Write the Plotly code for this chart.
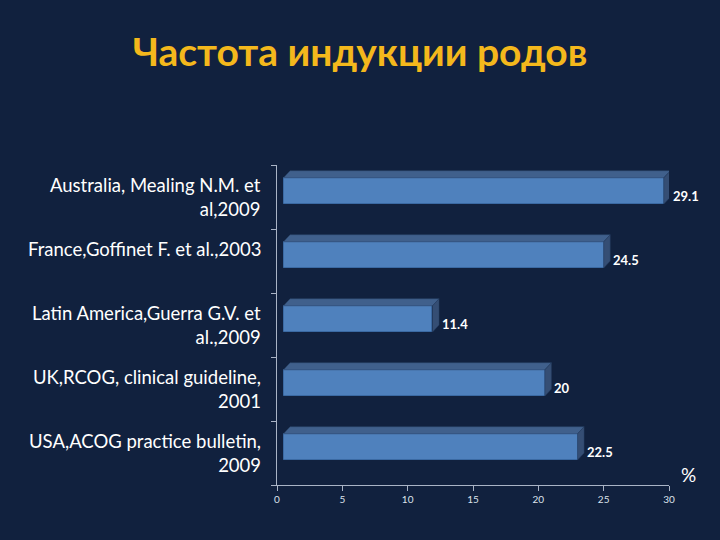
import plotly.graph_objects as go

studies = ["Australia, Mealing N.M. et<br>al,2009",
           "France,Goffinet F. et al.,2003<br> ",
           "Latin America,Guerra G.V. et<br>al.,2009",
           "UK,RCOG, clinical guideline,<br>2001",
           "USA,ACOG practice bulletin,<br>2009"]
rates = [29.1, 24.5, 11.4, 20, 22.5]
rate_labels = ["29.1", "24.5", "11.4", "20", "22.5"]
x_ticks = [0, 5, 10, 15, 20, 25, 30]

bg = "#11213e"
axis_col = "#aab4c6"
front = "#4f81bd"
top_col = "#40608c"
side_col = "#354e74"

# 3d look: front face shifted right, top/side faces going up-right
off = 0.5      # gap between axis and front face (x units)
dx = 0.5       # depth in x
h = 0.41       # front face height (y units)
dy = 0.11      # depth in y
lo = -0.11     # front face bottom relative to category centre
x_max = 30

n = len(studies)
ypos = [n - 1 - i for i in range(n)]

fig = go.Figure()

for y, v in zip(ypos, rates):
    yb, yt = y + lo, y + lo + h
    # top face
    fig.add_trace(go.Scatter(
        x=[off, off + v, off + v + dx, off + dx, off],
        y=[yt, yt, yt + dy, yt + dy, yt],
        fill="toself", fillcolor=top_col, mode="lines",
        line=dict(color="#2a4469", width=0.5), hoverinfo="skip", showlegend=False))
    # side face
    fig.add_trace(go.Scatter(
        x=[off + v, off + v + dx, off + v + dx, off + v, off + v],
        y=[yt, yt + dy, yb + dy, yb, yt],
        fill="toself", fillcolor=side_col, mode="lines",
        line=dict(color="#263f63", width=0.5), hoverinfo="skip", showlegend=False))

fig.add_trace(go.Bar(
    y=ypos, x=rates, base=off, orientation="h",
    width=h, offset=lo,
    marker=dict(color=front, line=dict(color="#3b6aa3", width=1)),
    hoverinfo="skip", showlegend=False))

annotations = []
for y, v, t in zip(ypos, rates, rate_labels):
    annotations.append(dict(
        x=(off + v + dx + 0.05) / x_max, y=y + 0.02, xref="paper", yref="y",
        text="<b>" + t + "</b>",
        showarrow=False, xanchor="left", yanchor="middle",
        font=dict(family="Lato", size=13, color="white")))
for y, s in zip(ypos, studies):
    annotations.append(dict(
        x=-0.035, y=y, xref="paper", yref="y", text=s,
        showarrow=False, xanchor="right", yanchor="middle", align="right",
        font=dict(family="Lato", size=18.5, color="white")))
annotations.append(dict(
    x=1.05, y=-0.33, xref="paper", yref="y", text="%",
    showarrow=False, xanchor="center", yanchor="middle",
    font=dict(family="Lato", size=19, color="white")))

fig.update_layout(
    width=720, height=540,
    paper_bgcolor=bg, plot_bgcolor=bg,
    margin=dict(l=277, r=51, t=165, b=55),
    title=dict(text="<b>Частота индукции родов</b>", x=0.5, xref="container",
               xanchor="center", y=0.903, yanchor="middle",
               font=dict(family="Lato", size=39, color="#f4b81c")),
    xaxis=dict(range=[0, x_max], tickvals=x_ticks, showgrid=False, zeroline=False,
               showline=True, linecolor=axis_col, linewidth=1,
               ticks="outside", ticklen=5, tickcolor=axis_col,
               tickfont=dict(family="Lato", size=10, color="#dde3ec")),
    yaxis=dict(range=[-0.5, 4.5], tickvals=[-0.5, 0.5, 1.5, 2.5, 3.5, 4.5],
               showticklabels=False, showgrid=False, zeroline=False,
               showline=True, linecolor=axis_col, linewidth=1,
               ticks="outside", ticklen=5, tickcolor=axis_col),
    annotations=annotations,
    bargap=0,
)

fig.write_html("out.html", config={"displayModeBar": False},
               post_script="document.body.style.margin='0';")
